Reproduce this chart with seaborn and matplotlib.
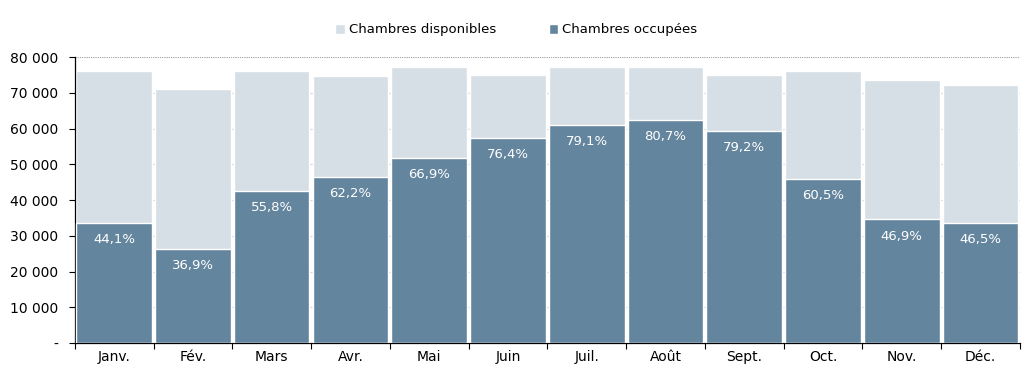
import matplotlib
matplotlib.use("Agg")
import matplotlib.pyplot as plt
import seaborn as sns
import pandas as pd
import numpy as np
from matplotlib.ticker import FuncFormatter, FixedLocator

months = ["Janv.", "Fév.", "Mars", "Avr.", "Mai", "Juin", "Juil.", "Août", "Sept.", "Oct.", "Nov.", "Déc."]
available = [76100, 71000, 76100, 74700, 77200, 75000, 77200, 77200, 75000, 76100, 73600, 72200]
occupied = [33700, 26400, 42500, 46500, 51700, 57300, 61000, 62500, 59400, 46000, 34600, 33700]
rates = ["44,1%", "36,9%", "55,8%", "62,2%", "66,9%", "76,4%", "79,1%", "80,7%", "79,2%", "60,5%", "46,9%", "46,5%"]

light = "#D7DFE6"
dark = "#64859E"

sns.set_theme(style="white")
plt.rcParams["font.family"] = ["DejaVu Sans"]
plt.rcParams["text.color"] = "black"

df = pd.DataFrame({"month": months, "available": available, "occupied": occupied})

fig = plt.figure(figsize=(10.24, 3.86), dpi=100)
ax = fig.add_axes([0.073, 0.111, 0.923, 0.741])

for y in range(10000, 80000, 10000):
    ax.axhline(y, color="#D9D9D9", lw=0.8, zorder=0)
ax.axhline(80000, color="#9A9A9A", lw=0.8, ls=(0, (1, 1)), zorder=0)

sns.barplot(data=df, x="month", y="available", color=light, width=0.96,
            saturation=1, ax=ax, zorder=2, label="Chambres disponibles")
sns.barplot(data=df, x="month", y="occupied", color=dark, width=0.96,
            saturation=1, ax=ax, zorder=3, label="Chambres occupées")

for i, (v, r) in enumerate(zip(occupied, rates)):
    ax.annotate(r, xy=(i, v), xytext=(0, -12), textcoords="offset points",
                ha="center", va="center", color="white", fontsize=9.5, zorder=4)

ax.set_xlim(-0.5, 11.5)
ax.set_ylim(0, 80000)
ax.set_yticks(range(0, 80001, 10000))
ax.yaxis.set_major_formatter(FuncFormatter(
    lambda v, p: "-" if v == 0 else f"{int(v):,}".replace(",", " ")))
ax.set_xlabel("")
ax.set_ylabel("")

ax.xaxis.set_minor_locator(FixedLocator(np.arange(-0.5, 12, 1)))
ax.tick_params(axis="x", which="major", length=0, labelsize=10, pad=5, labelcolor="black")
ax.tick_params(axis="x", which="minor", length=4, width=0.8, direction="out", color="black", bottom=True)
ax.tick_params(axis="y", which="major", length=4, width=0.8, direction="out", labelsize=10,
               left=True, color="black", labelcolor="black", pad=8)

for s in ["top", "right"]:
    ax.spines[s].set_visible(False)
for s in ["left", "bottom"]:
    ax.spines[s].set_visible(True)
    ax.spines[s].set_color("black")
    ax.spines[s].set_linewidth(0.9)

leg = fig.legend(*ax.get_legend_handles_labels(), loc="center", bbox_to_anchor=(0.504, 1 - 30 / 386),
                 ncol=2, frameon=False, fontsize=9.5, handlelength=0.7, handleheight=0.7,
                 handletextpad=0.3, columnspacing=4.0, labelcolor="black")
if ax.get_legend() is not None:
    ax.get_legend().remove()

fig.savefig("out.png", dpi=100)
